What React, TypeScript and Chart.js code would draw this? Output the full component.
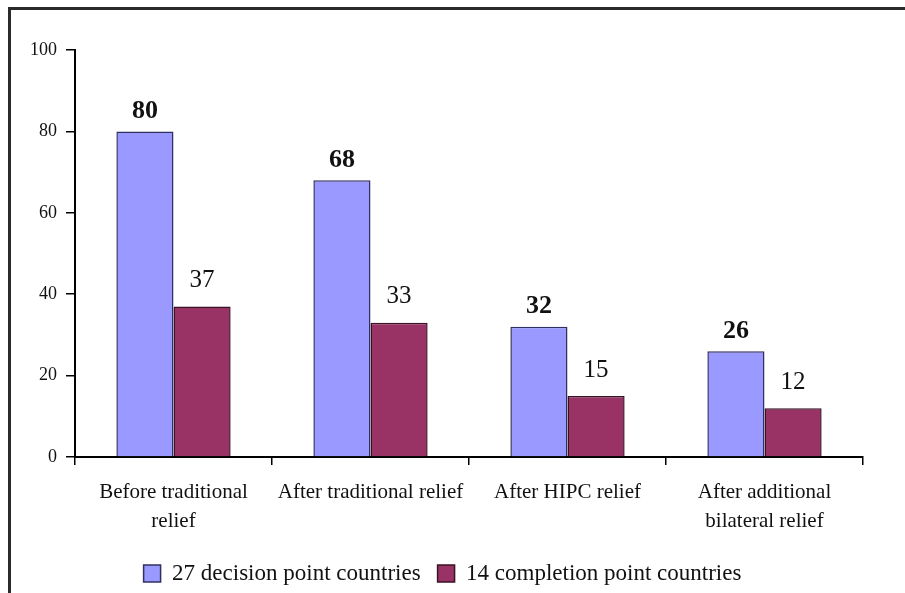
import React, { useEffect, useRef } from "react";
import { Chart, registerables } from "chart.js";

Chart.register(...registerables);

// Debt ratio stages and the two country groups
const categories: (string | string[])[] = [
  ["Before traditional", "relief"],
  "After traditional relief",
  "After HIPC relief",
  ["After additional", "bilateral relief"],
];
const decisionPoint = [80, 68, 32, 26];
const completionPoint = [37, 33, 15, 12];
const seriesNames = ["27 decision point countries", "14 completion point countries"];
const yTicks = [0, 20, 40, 60, 80, 100];

const SERIF = "'Liberation Serif', 'Times New Roman', serif";
const INK = "#111111";

// Writes each bar's value above it: bold for the first series, regular for the second.
const valueLabels = {
  id: "valueLabels",
  afterDatasetsDraw(chart: Chart) {
    const { ctx } = chart;
    chart.data.datasets.forEach((ds, di) => {
      const meta = chart.getDatasetMeta(di);
      if (meta.hidden) return;
      meta.data.forEach((el: any, i: number) => {
        const v = ds.data[i] as number;
        ctx.save();
        ctx.fillStyle = INK;
        ctx.textAlign = "center";
        ctx.textBaseline = "middle";
        ctx.font = di === 0 ? `bold 26px ${SERIF}` : `25px ${SERIF}`;
        ctx.fillText(String(v), el.x, el.y - (di === 0 ? 20 : 26));
        ctx.restore();
      });
    });
  },
};

export default function App() {
  const ref = useRef<HTMLCanvasElement | null>(null);

  useEffect(() => {
    if (!ref.current) return;
    const chart = new Chart(ref.current, {
      type: "bar",
      data: {
        labels: categories,
        datasets: [
          {
            label: seriesNames[0],
            data: decisionPoint,
            backgroundColor: "#9999FF",
            borderColor: "#303060",
            borderWidth: 1.5,
          },
          {
            label: seriesNames[1],
            data: completionPoint,
            backgroundColor: "#993366",
            borderColor: "#3a1226",
            borderWidth: 1.5,
          },
        ],
      },
      options: {
        animation: false,
        responsive: false,
        layout: { padding: { left: 22, right: 42, top: 50, bottom: -2 } },
        datasets: { bar: { categoryPercentage: 0.58, barPercentage: 1 } },
        scales: {
          x: {
            grid: {
              display: true,
              drawOnChartArea: false,
              drawTicks: true,
              tickLength: 8,
              color: "#000",
              lineWidth: 1.5,
              offset: true,
            },
            border: { display: true, color: "#000", width: 2 },
            ticks: {
              color: INK,
              padding: 13,
              font: { family: SERIF, size: 21, lineHeight: 1.38 },
              maxRotation: 0,
              autoSkip: false,
            },
            afterFit(scale: any) {
              scale.height = 88;
            },
          },
          y: {
            min: 0,
            max: 100,
            afterBuildTicks(scale: any) {
              scale.ticks = yTicks.map((v) => ({ value: v }));
            },
            grid: {
              display: true,
              drawOnChartArea: false,
              drawTicks: true,
              tickLength: 9,
              color: "#000",
              lineWidth: 1.5,
            },
            border: { display: true, color: "#000", width: 2 },
            ticks: {
              color: INK,
              padding: 9,
              font: { family: SERIF, size: 18 },
            },
            afterFit(scale: any) {
              scale.width = 53;
            },
          },
        },
        plugins: {
          legend: {
            position: "bottom",
            labels: {
              boxWidth: 17,
              boxHeight: 17,
              padding: 17,
              color: INK,
              font: { family: SERIF, size: 23 },
            },
          },
          tooltip: { enabled: false },
        },
      },
      plugins: [valueLabels],
    });
    return () => chart.destroy();
  }, []);

  return (
    <div>
      <canvas
        ref={ref}
        width={905}
        height={593}
        style={{ position: "fixed", left: 0, top: 0, display: "block" }}
      />
      <div
        style={{
          position: "fixed",
          left: 8,
          top: 7,
          width: 2000,
          height: 2000,
          borderTop: "3px solid #2b2b2b",
          borderLeft: "3px solid #2b2b2b",
          pointerEvents: "none",
        }}
      />
    </div>
  );
}
